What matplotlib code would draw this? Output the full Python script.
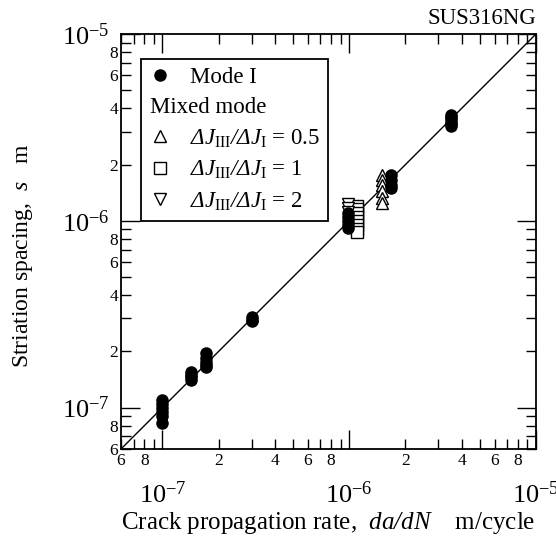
import numpy as np
import matplotlib
matplotlib.use('Agg')
import matplotlib.pyplot as plt
from matplotlib.lines import Line2D
from matplotlib.ticker import LogLocator, FuncFormatter
from matplotlib.transforms import ScaledTranslation

plt.rcParams['font.family'] = ['Liberation Serif', 'DejaVu Serif']
plt.rcParams['mathtext.fontset'] = 'custom'
# rm italique pour avoir un Delta penché, sf droit pour indices et puissances
plt.rcParams['mathtext.rm'] = 'Liberation Serif:italic'
plt.rcParams['mathtext.it'] = 'Liberation Serif:italic'
plt.rcParams['mathtext.sf'] = 'Liberation Serif'
plt.rcParams['mathtext.bf'] = 'Liberation Serif:bold'

""" données """

lim = [6e-8, 1e-5]

# Mode I (cercles pleins)
mode1_x = [1.0e-7]*6 + [1.43e-7]*4 + [1.72e-7]*5 + [3.0e-7]*3 + [0.98e-6]*5 + [1.68e-6]*4 + [3.5e-6]*6
mode1_y = [1.1e-7, 1.05e-7, 1.0e-7, 0.95e-7, 0.9e-7, 0.83e-7,
           1.55e-7, 1.5e-7, 1.45e-7, 1.4e-7,
           1.95e-7, 1.85e-7, 1.75e-7, 1.68e-7, 1.65e-7,
           3.05e-7, 2.95e-7, 2.9e-7,
           1.1e-6, 1.05e-6, 1.0e-6, 0.95e-6, 0.92e-6,
           1.75e-6, 1.65e-6, 1.55e-6, 1.5e-6,
           3.7e-6, 3.6e-6, 3.5e-6, 3.4e-6, 3.3e-6, 3.2e-6]

# dJIII/dJI = 0.5
r05_x = [1.5e-6]*6
r05_y = [1.75e-6, 1.65e-6, 1.55e-6, 1.45e-6, 1.32e-6, 1.25e-6]

# dJIII/dJI = 1
r1_x = [1.1e-6]*8
r1_y = [1.2e-6, 1.15e-6, 1.1e-6, 1.05e-6, 1.0e-6, 0.95e-6, 0.9e-6, 0.87e-6]

# dJIII/dJI = 2
r2_x = [0.98e-6]*3
r2_y = [1.23e-6, 1.17e-6, 1.12e-6]

""" figure """

fig = plt.figure(figsize=(5.56, 5.39), dpi=100)
ax = fig.add_axes([121/556, 90/539, 415/556, 415/539])
ax.set_xscale('log')
ax.set_yscale('log')
ax.set_xlim(lim)
ax.set_ylim(lim)

ax.plot(lim, lim, color='black', lw=1, zorder=1)

ax.plot(r1_x, r1_y, ls='none', marker='s', ms=8, mfc='white', mec='black', mew=1, zorder=2)
ax.plot(r2_x, r2_y, ls='none', marker='v', ms=8, mfc='white', mec='black', mew=1, zorder=2)
ax.plot(r05_x, r05_y, ls='none', marker='^', ms=8, mfc='white', mec='black', mew=1, zorder=2)
ax.plot(mode1_x, mode1_y, ls='none', marker='o', ms=8, mfc='black', mec='black', zorder=3)

def major_fmt(v, pos):
    return r'$\mathsf{10^{%d}}$' % int(round(np.log10(v)))

def minor_fmt(v, pos):
    m = int(round(v / 10**np.floor(np.log10(v) + 1e-9)))
    return str(m) if m in (2, 4, 6, 8) else ''

for axis in (ax.xaxis, ax.yaxis):
    axis.set_major_locator(LogLocator(base=10, numticks=10))
    axis.set_minor_locator(LogLocator(base=10, subs=np.arange(2, 10), numticks=10))
    axis.set_major_formatter(FuncFormatter(major_fmt))
    axis.set_minor_formatter(FuncFormatter(minor_fmt))

ax.tick_params(which='both', direction='in', top=True, right=True, width=1)
ax.tick_params(which='major', length=14, labelsize=19)
ax.tick_params(which='minor', length=7, labelsize=12.5)
ax.tick_params(axis='x', which='major', pad=23)
ax.tick_params(axis='x', which='minor', pad=3)
ax.tick_params(axis='y', which='major', pad=8)
ax.tick_params(axis='y', which='minor', pad=2)
for s in ax.spines.values():
    s.set_linewidth(1.3)

ax.set_xlabel(r'Crack propagation rate,  $\mathit{da/dN}$    m/cycle', fontsize=18, labelpad=2)
ax.set_ylabel(r'Striation spacing,  $\mathit{s}$   m', fontsize=17)
ax.yaxis.set_label_coords(-0.207, 0.466)
ax.text(1.0, 1.012, 'SUS316NG', transform=ax.transAxes, ha='right', va='bottom', fontsize=16.5)

handles = [
    Line2D([], [], ls='none', marker='o', ms=8, mfc='black', mec='black'),
    Line2D([], [], ls='none', marker=None),
    Line2D([], [], ls='none', marker='^', ms=8, mfc='white', mec='black', mew=1),
    Line2D([], [], ls='none', marker='s', ms=8, mfc='white', mec='black', mew=1),
    Line2D([], [], ls='none', marker='v', ms=8, mfc='white', mec='black', mew=1),
]
labels = [
    'Mode I',
    'Mixed mode',
    r'$\Delta J_{\mathsf{III}}/\Delta J_{\mathsf{I}}$ = 0.5',
    r'$\Delta J_{\mathsf{III}}/\Delta J_{\mathsf{I}}$ = 1',
    r'$\Delta J_{\mathsf{III}}/\Delta J_{\mathsf{I}}$ = 2',
]
leg = ax.legend(handles, labels, loc='upper left', bbox_to_anchor=(20/415, 1-25/415),
                borderaxespad=0, fontsize=16.5, frameon=True, fancybox=False,
                edgecolor='black', framealpha=1, handlelength=1.0, handletextpad=0.8,
                labelspacing=0.4, borderpad=0.35)
leg.get_frame().set_linewidth(1.3)
t = leg.get_texts()[1]
t.set_transform(t.get_transform() + ScaledTranslation(-0.40, 0, fig.dpi_scale_trans))

fig.savefig('out.png', dpi=100)
